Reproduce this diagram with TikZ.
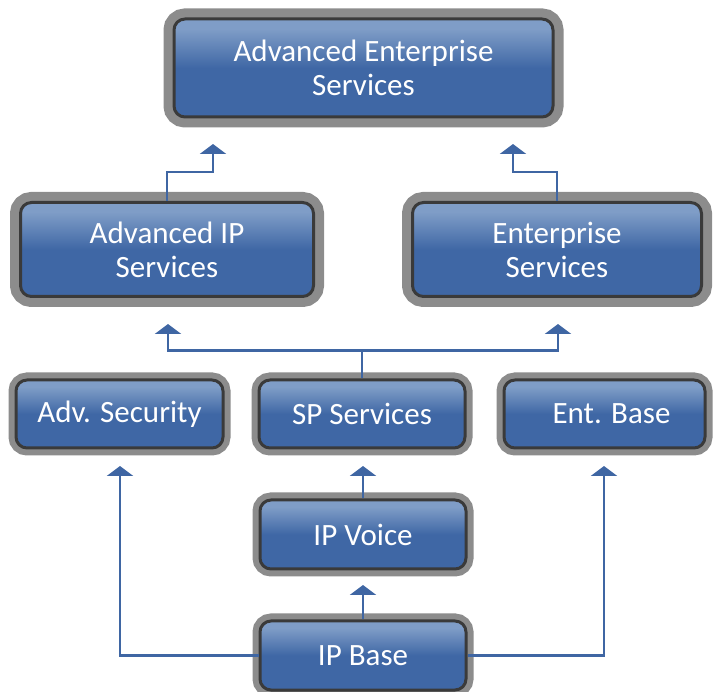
\documentclass[tikz,border=0pt]{standalone}
\usepackage{fontspec}
\setmainfont{Carlito}
\usetikzlibrary{arrows.meta}
\definecolor{boxlight}{HTML}{7F9DC7}
\definecolor{boxdark}{HTML}{3F67A5}
\definecolor{boxedge}{HTML}{3A3A3A}
\definecolor{boxgray}{HTML}{8C8C8C}
\definecolor{arrblue}{HTML}{3F66A3}
\pgfdeclareverticalshading{boxshade}{100bp}{color(0bp)=(boxdark); color(50bp)=(boxdark); color(70bp)=(boxlight); color(100bp)=(boxlight)}
\tikzset{
  module/.style={rounded corners=11pt, inner sep=0pt, align=center, text=white,
    font=\fontsize{31}{34}\selectfont, shading=boxshade, draw=boxedge, line width=3pt,
    preaction={draw=boxgray, line width=#1}},
  module/.default=15pt,
  arr/.style={draw=arrblue, line width=2.5pt, -{Triangle[width=26pt,length=10pt]}}
}
\begin{document}
\begin{tikzpicture}[x=1pt,y=-1pt]
  \useasboundingbox (0,0) rectangle (713,692);
  % boxes
  \node[module=21pt, minimum width=379pt, minimum height=98pt] (aes) at (363.5,68) {Advanced Enterprise\\Services};
  \node[module=21pt, minimum width=293pt, minimum height=94pt] (aips) at (167,249.5) {Advanced IP\\Services};
  \node[module=21pt, minimum width=289pt, minimum height=94pt] (es) at (557,249.5) {Enterprise\\Services};
  \node[module, minimum width=207pt, minimum height=68pt] (advsec) at (119.5,414) {Adv. Security};
  \node[module, minimum width=206pt, minimum height=68pt] (spsvc) at (362,414) {SP Services};
  \node[module, minimum width=201pt, minimum height=68pt] (entbase) at (604.5,414) {\hspace*{14pt}Ent. Base};
  \node[module, minimum width=206pt, minimum height=69pt] (ipvoice) at (363,534.5) {IP Voice};
  \node[module, minimum width=206pt, minimum height=69pt] (ipbase) at (363,655.5) {IP Base};
  % arrow tips
  \coordinate (toaes1) at (213,144);
  \coordinate (toaes2) at (513,144);
  \coordinate (toaips) at (168,324);
  \coordinate (toes) at (558,324);
  \coordinate (toadvsec) at (120,466);
  \coordinate (tospsvc) at (363,466);
  \coordinate (toentbase) at (604,466);
  \coordinate (toipvoice) at (363,585);
  % connectors
  \draw[arr] (aips.north) |- (213,172) -- (toaes1);
  \draw[arr] (es.north) |- (513,172) -- (toaes2);
  \draw[arr] (spsvc.north) -- ++(0,-28) -| (toaips);
  \draw[arr] (spsvc.north) -- ++(0,-28) -| (toes);
  \draw[arr] (ipvoice.north) -- (tospsvc);
  \draw[arr] (ipbase.north) -- (toipvoice);
  \draw[arr] (ipbase.west) -| (toadvsec);
  \draw[arr] (ipbase.east) -| (toentbase);
\end{tikzpicture}
\end{document}
